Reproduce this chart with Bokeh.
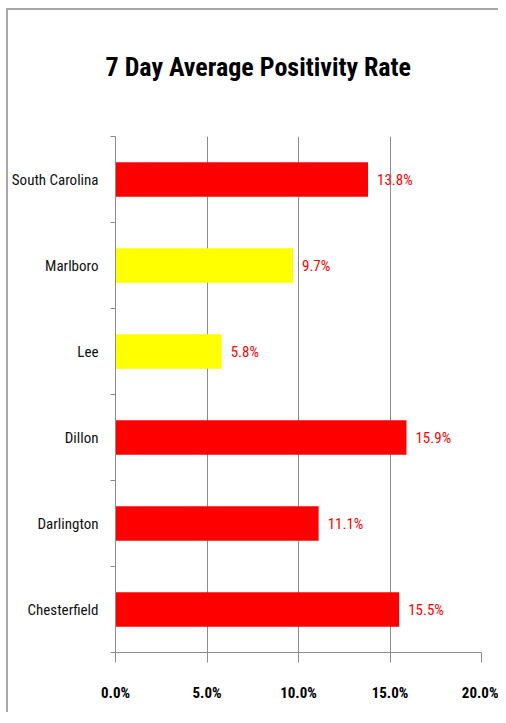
from bokeh.plotting import figure
from bokeh.models import ColumnDataSource, FixedTicker, NumeralTickFormatter, Range1d, Title
from bokeh.core.properties import value
from bokeh.embed import file_html
from bokeh.resources import INLINE

categories = ["South Carolina", "Marlboro", "Lee", "Dillon", "Darlington", "Chesterfield"]
rates = [13.8, 9.7, 5.8, 15.9, 11.1, 15.5]
bar_colors = ["#ff0000", "#ffff00", "#ffff00", "#ff0000", "#ff0000", "#ff0000"]
x_ticks = [0.0, 0.05, 0.10, 0.15, 0.20]
title_text = "7 Day Average Positivity Rate"

FONT = "'Roboto Condensed', 'DejaVu Sans Condensed', 'Liberation Sans', sans-serif"

n = len(categories)
ypos = [n - i - 0.5 for i in range(n)]
src = ColumnDataSource(dict(
    y=ypos,
    v=[r / 100 for r in rates],
    c=bar_colors,
    lbl=[f"{r:.1f}%" for r in rates],
))

p = figure(
    output_backend="svg", toolbar_location=None,
    x_range=Range1d(0, 0.20), y_range=Range1d(0, n),
    frame_width=366, frame_height=516,
    min_border_left=106, min_border_right=17,
    min_border_top=126, min_border_bottom=60,
    title=None,
)
p.styles = {"border-top": "2px solid #a8a8a8", "border-left": "2px solid #a8a8a8",
            "margin-left": "6px", "margin-top": "8px"}

# spacer between plot frame and title (closest to the frame)
spacer = Title(text=" ", text_font_size="10px", standoff=37, text_color="white")
p.add_layout(spacer, "above")

main_title = Title(text=title_text, align="left", offset=-10, standoff=10,
                   text_font=FONT, text_font_size="26px", text_font_style="bold",
                   text_color="#000000")
p.add_layout(main_title, "above")

p.outline_line_color = None
p.background_fill_color = "white"
p.border_fill_color = "white"

p.hbar(y="y", left=0, right="v", height=0.4, fill_color="c", line_color=None, source=src)
p.text(x="v", y="y", text="lbl", source=src, x_offset=9, text_baseline="middle",
       text_align="left", text_color="#ff0000", text_font=value(FONT), text_font_size="15px")

# x axis
xa = p.xaxis[0]
xa.ticker = FixedTicker(ticks=x_ticks)
xa.formatter = NumeralTickFormatter(format="0.0%")
xa.axis_line_color = "#8c8c8c"
xa.major_tick_line_color = "#8c8c8c"
xa.major_tick_out = 10
xa.major_tick_in = 0
xa.minor_tick_line_color = None
xa.major_label_text_font = FONT
xa.major_label_text_font_size = "15px"
xa.major_label_text_font_style = "bold"
xa.major_label_text_color = "#000000"
xa.major_label_standoff = 21

# y axis
ya = p.yaxis[0]
ya.ticker = FixedTicker(ticks=ypos, minor_ticks=list(range(n + 1)))
ya.major_label_overrides = {y: c for y, c in zip(ypos, categories)}
ya.axis_line_color = "#8c8c8c"
ya.major_tick_line_color = None
ya.major_tick_out = 0
ya.major_tick_in = 0
ya.minor_tick_line_color = "#8c8c8c"
ya.minor_tick_out = 5
ya.minor_tick_in = 0
ya.major_label_text_font = FONT
ya.major_label_text_font_size = "15px"
ya.major_label_text_color = "#111111"
ya.major_label_standoff = 12

p.xgrid.grid_line_color = "#8c8c8c"
p.ygrid.grid_line_color = None

open("out.html", "w").write(file_html(p, INLINE))
